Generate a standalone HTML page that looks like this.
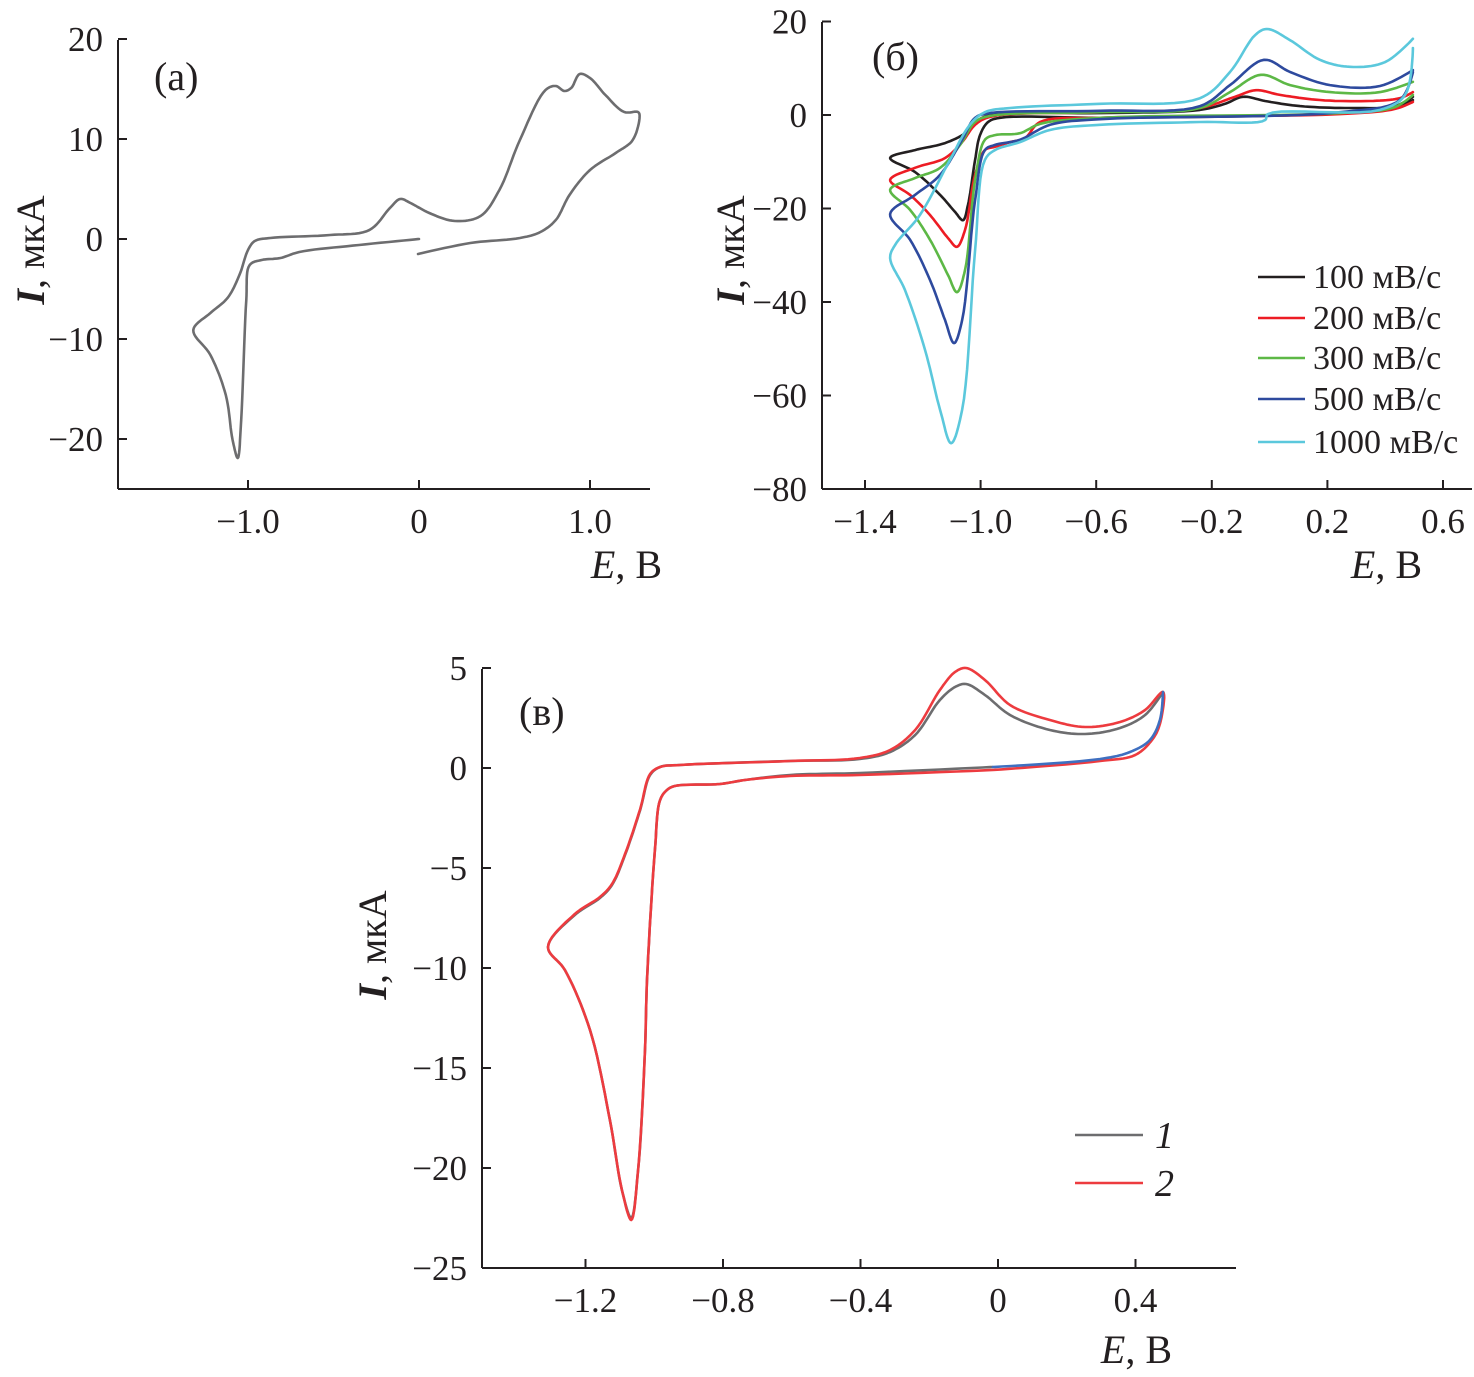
<!DOCTYPE html>
<html><head><meta charset="utf-8">
<style>
html,body{margin:0;padding:0;background:#fff;}
svg{display:block;font-family:"Liberation Serif",serif;}
</style></head>
<body>
<svg id="fig" width="1474" height="1377" viewBox="0 0 1474 1377" xmlns="http://www.w3.org/2000/svg"></svg>
<script>
// ---------- data ----------
const aTicksX = [-1.0, 0, 1.0];
const aTickLabelsX = ["−1.0", "0", "1.0"];
const aTicksY = [20, 10, 0, -10, -20];
const aTickLabelsY = ["20", "10", "0", "−10", "−20"];
const aCurve = [[-0.006,-1.5],[0.30,-0.4],[0.59,0.1],[0.71,0.7],[0.80,1.9],[0.88,4.4],[1.0,6.9],[1.15,8.6],[1.25,9.9],[1.29,12.4],[1.28,12.7],[1.20,12.7],[1.09,14.4],[1.0,16.1],[0.94,16.5],[0.89,15.1],[0.85,14.8],[0.80,15.3],[0.74,14.9],[0.59,9.9],[0.47,4.9],[0.36,2.3],[0.21,1.8],[0.06,2.6],[-0.05,3.6],[-0.11,4.0],[-0.17,3.1],[-0.29,0.9],[-0.52,0.4],[-0.87,0.1],[-0.96,-0.2],[-1.0,-1.1],[-1.05,-3.6],[-1.12,-5.9],[-1.22,-7.4],[-1.32,-9.1],[-1.22,-11.6],[-1.13,-15.6],[-1.09,-20.1],[-1.06,-21.9],[-1.04,-18.1],[-1.01,-6.1],[-0.99,-2.6],[-0.92,-2.1],[-0.81,-1.9],[-0.70,-1.3],[-0.35,-0.6],[0,0]];

const bTicksX = [-1.4,-1.0,-0.6,-0.2,0.2,0.6];
const bTickLabelsX = ["−1.4","−1.0","−0.6","−0.2","0.2","0.6"];
const bTicksY = [20,0,-20,-40,-60,-80];
const bTickLabelsY = ["20","0","−20","−40","−60","−80"];
const bLegend = ["100 мВ/с","200 мВ/с","300 мВ/с","500 мВ/с","1000 мВ/с"];
const b100 = [[0.496,3.2],[0.434,1.5],[0.244,0.4],[-0.033,-0.2],[-0.587,-0.6],[-0.933,-0.6],[-0.974,-1.5],[-1.002,-4.3],[-1.019,-9.6],[-1.044,-19.3],[-1.061,-22.5],[-1.089,-20.7],[-1.14,-17.1],[-1.227,-12.2],[-1.313,-9.2],[-1.227,-7.5],[-1.123,-6.0],[-1.054,-3.9],[-1.009,-1.1],[-0.95,0.2],[-0.587,0.4],[-0.241,1.1],[-0.154,2.4],[-0.092,3.9],[-0.016,3.0],[0.105,1.9],[0.278,1.5],[0.434,1.9],[0.496,3.9]];
const b200 = [[0.496,2.8],[0.434,1.3],[0.244,0.2],[-0.587,-0.6],[-0.794,-1.5],[-0.846,-4.9],[-0.898,-5.8],[-0.95,-6.8],[-0.985,-7.5],[-1.019,-12.8],[-1.054,-24.6],[-1.082,-28.2],[-1.113,-26.3],[-1.175,-21.4],[-1.244,-17.1],[-1.313,-13.9],[-1.227,-11.3],[-1.123,-9.2],[-1.064,-5.8],[-1.019,-2.1],[-0.967,-0.4],[-0.587,0.6],[-0.241,1.5],[-0.12,3.9],[-0.047,5.3],[0.036,4.3],[0.174,3.2],[0.348,3.0],[0.451,3.6],[0.496,4.9]];
const b300 = [[0.496,4.3],[0.434,1.7],[0.244,0.4],[-0.587,-0.6],[-0.794,-1.9],[-0.864,-3.9],[-0.95,-4.3],[-0.985,-5.3],[-1.019,-13.9],[-1.054,-33.2],[-1.082,-37.9],[-1.113,-34.2],[-1.175,-26.7],[-1.244,-20.3],[-1.313,-16.0],[-1.227,-13.5],[-1.14,-11.3],[-1.071,-6.4],[-1.019,-1.5],[-0.967,-0.2],[-0.587,0.6],[-0.241,1.5],[-0.137,4.9],[-0.030,8.6],[0.071,6.4],[0.209,4.9],[0.382,4.9],[0.496,7.1]];
const b500 = [[0.496,9.2],[0.451,3.2],[0.244,0.6],[-0.587,-0.9],[-0.76,-2.1],[-0.864,-5.3],[-0.95,-6.4],[-0.985,-7.5],[-1.019,-18.2],[-1.064,-43.9],[-1.092,-48.8],[-1.123,-43.9],[-1.175,-35.3],[-1.244,-26.7],[-1.313,-21.2],[-1.227,-17.1],[-1.14,-12.8],[-1.064,-5.3],[-1.019,-0.6],[-0.967,0.4],[-0.587,0.9],[-0.241,1.9],[-0.137,6.4],[-0.019,11.8],[0.071,9.2],[0.209,6.4],[0.382,6.2],[0.496,9.6]];
const b1000 = [[0.496,14.3],[0.469,4.3],[0.382,1.1],[-0.006,0.2],[-0.016,-1.1],[-0.241,-1.5],[-0.587,-2.1],[-0.76,-3.2],[-0.864,-5.8],[-0.95,-7.5],[-0.985,-9.6],[-1.019,-28.9],[-1.064,-63.1],[-1.102,-70.2],[-1.14,-63.1],[-1.192,-50.3],[-1.262,-37.4],[-1.313,-30.6],[-1.296,-27.8],[-1.21,-21.4],[-1.106,-9.6],[-1.037,-2.1],[-0.985,0.6],[-0.898,1.5],[-0.587,2.4],[-0.241,3.6],[-0.137,9.2],[-0.05,17.1],[-0.009,18.4],[0.071,16.0],[0.174,11.8],[0.278,10.3],[0.399,11.3],[0.496,16.3]];

const cTicksX = [-1.2,-0.8,-0.4,0,0.4];
const cTickLabelsX = ["−1.2","−0.8","−0.4","0","0.4"];
const cTicksY = [5,0,-5,-10,-15,-20,-25];
const cTickLabelsY = ["5","0","−5","−10","−15","−20","−25"];
const cLegend = ["1","2"];
const c1 = [[-0.015,0.05],[-0.402,-0.25],[-0.605,-0.35],[-0.736,-0.6],[-0.809,-0.8],[-0.940,-0.9],[-0.963,-1.1],[-0.983,-1.6],[-0.998,-4.1],[-1.021,-10.6],[-1.027,-14.1],[-1.047,-20.1],[-1.067,-22.5],[-1.094,-21.1],[-1.129,-17.6],[-1.187,-13.1],[-1.260,-10.1],[-1.309,-8.95],[-1.231,-7.35],[-1.158,-6.5],[-1.123,-5.85],[-1.085,-4.35],[-1.041,-2.1],[-1.012,-0.35],[-0.983,0.05],[-0.925,0.15],[-0.605,0.35],[-0.402,0.45],[-0.314,0.8],[-0.241,1.65],[-0.169,3.4],[-0.125,4.05],[-0.093,4.2],[-0.038,3.65],[0.035,2.65],[0.151,1.9],[0.253,1.7],[0.355,2.0],[0.428,2.65],[0.480,3.8]];
const c1b = [[0.480,3.8],[0.471,2.4],[0.442,1.4],[0.384,0.8],[0.297,0.45],[-0.015,0.05]];
const c2 = [[-0.015,-0.1],[-0.402,-0.35],[-0.605,-0.4],[-0.736,-0.6],[-0.809,-0.8],[-0.940,-0.9],[-0.963,-1.1],[-0.983,-1.6],[-0.998,-4.1],[-1.021,-10.6],[-1.027,-14.1],[-1.047,-20.1],[-1.067,-22.6],[-1.094,-21.1],[-1.129,-17.6],[-1.187,-13.1],[-1.260,-10.1],[-1.309,-8.95],[-1.231,-7.3],[-1.158,-6.45],[-1.123,-5.8],[-1.085,-4.3],[-1.041,-2.05],[-1.012,-0.3],[-0.983,0.05],[-0.925,0.15],[-0.605,0.35],[-0.402,0.5],[-0.314,0.9],[-0.241,1.9],[-0.169,3.9],[-0.125,4.8],[-0.093,5.0],[-0.038,4.4],[0.035,3.15],[0.151,2.4],[0.253,2.05],[0.355,2.3],[0.428,2.9],[0.480,3.8],[0.471,2.2],[0.448,1.4],[0.399,0.65],[0.297,0.35],[-0.015,-0.1]];

// ---------- drawing ----------
const NS = "http://www.w3.org/2000/svg";
const svg = document.getElementById('fig');
function mk(tag, attrs, parent){const e=document.createElementNS(NS,tag);for(const k in attrs)e.setAttribute(k,attrs[k]);(parent||svg).appendChild(e);return e;}
const TF = 35;

function panel(cfg){
  const g = mk('g',{});
  
  
  const sx = v => cfg.x0 + (v - cfg.e0) * cfg.kx;
  const sy = v => cfg.y0 - (v - cfg.i0) * cfg.ky;
  const ya = mk('line',{x1:cfg.axX,y1:cfg.axTop,x2:cfg.axX,y2:cfg.axY,stroke:'#231f20','stroke-width':2},g);
  
  
  const xa = mk('line',{x1:cfg.axX,y1:cfg.axY,x2:cfg.axRight,y2:cfg.axY,stroke:'#231f20','stroke-width':2},g);
  
  
  cfg.ty.forEach((v,i)=>{
    const y=sy(v);
    const t=mk('line',{x1:cfg.axX,y1:y,x2:cfg.axX+9,y2:y,stroke:'#231f20','stroke-width':2},g);
    
    
    const l=mk('text',{x:cfg.axX-15,y:y+12,'text-anchor':'end','font-size':TF,fill:'#231f20'},g);
    
    
    l.textContent=cfg.tyl[i];
  });
  cfg.tx.forEach((v,i)=>{
    const x=sx(v);
    const t=mk('line',{x1:x,y1:cfg.axY,x2:x,y2:cfg.axY-9,stroke:'#231f20','stroke-width':2},g);
    
    
    const l=mk('text',{x:x,y:cfg.axY+44,'text-anchor':'middle','font-size':TF,fill:'#231f20'},g);
    
    
    l.textContent=cfg.txl[i];
  });
  return {g,sx,sy};
}
function smooth(P){
  if(P.length<3) return P;
  const out=[P[0]];
  const d=(a,b)=>Math.pow(Math.hypot(b[0]-a[0],b[1]-a[1])||1e-6,0.5);
  for(let i=0;i<P.length-1;i++){
    const p0=P[Math.max(0,i-1)],p1=P[i],p2=P[i+1],p3=P[Math.min(P.length-1,i+2)];
    const t0=0,t1=t0+d(p0,p1),t2=t1+d(p1,p2),t3=t2+d(p2,p3);
    const N=10;
    for(let k=1;k<=N;k++){
      const t=t1+(t2-t1)*k/N;
      const L=(a,b,ta,tb)=>{const w=(tb-ta)||1e-6;return [(tb-t)/w*a[0]+(t-ta)/w*b[0],(tb-t)/w*a[1]+(t-ta)/w*b[1]];};
      const A1=L(p0,p1,t0,t1),A2=L(p1,p2,t1,t2),A3=L(p2,p3,t2,t3);
      const B1=L(A1,A2,t0,t2),B2=L(A2,A3,t1,t3);
      out.push(L(B1,B2,t1,t2));
    }
  }
  return out;
}
function curve(p, data, color, name){
  const scr = data.map(d=>[p.sx(d[0]),p.sy(d[1])]);
  const pts = smooth(scr).map(q=>q[0].toFixed(1)+','+q[1].toFixed(1)).join(' ');
  const e = mk('polyline',{points:pts,fill:'none',stroke:color,'stroke-width':2.6,'stroke-linejoin':'round','stroke-linecap':'round'},p.g);
  
  
}
function text(p, x, y, str, size, name, opts){
  const t = mk('text',Object.assign({x:x,y:y,'font-size':size,fill:'#231f20'},opts||{}),p.g);
  
  
  t.innerHTML = str;
  return t;
}

// panel a
const pa = panel({name:'panel-a',x0:419,e0:0,kx:171,y0:239,i0:0,ky:10,axX:118,axTop:40,axY:489,axRight:650,tx:aTicksX,txl:aTickLabelsX,ty:aTicksY,tyl:aTickLabelsY});
curve(pa, aCurve, '#6d6d6f', 'cv-curve-a');
text(pa,154,90,'(а)',40,'panel-label-a');
text(pa,662,578,'<tspan font-style="italic">E</tspan>, В',40,'x-axis-title-a',{'text-anchor':'end'});
text(pa,0,0,'<tspan font-style="italic" font-weight="bold">I</tspan>, мкА',40,'y-axis-title-a',{'text-anchor':'middle',transform:'translate(44,250) rotate(-90)'});

// panel b
const pb = panel({name:'panel-b',x0:865,e0:-1.4,kx:289,y0:115,i0:0,ky:4.675,axX:822,axTop:22,axY:489,axRight:1472,tx:bTicksX,txl:bTickLabelsX,ty:bTicksY,tyl:bTickLabelsY});
const bCols = ['#231f20','#ed1c24','#5db846','#2e4a9e','#5bc8dc'];
const bSeries = [b100,b200,b300,b500,b1000];
const bNames = ['cv-100','cv-200','cv-300','cv-500','cv-1000'];
bSeries.forEach((s,i)=>curve(pb,s,bCols[i],bNames[i]));
const bLegY = [277,318,358,399,442];
bLegend.forEach((s,i)=>{
  const l=mk('line',{x1:1258,y1:bLegY[i],x2:1305,y2:bLegY[i],stroke:bCols[i],'stroke-width':2.6},pb.g);
  
  
  text(pb,1313,bLegY[i]+11,s,34,'legend-entry');
});
text(pb,872,70,'(б)',40,'panel-label-b');
text(pb,1422,578,'<tspan font-style="italic">E</tspan>, В',40,'x-axis-title-b',{'text-anchor':'end'});
text(pb,0,0,'<tspan font-style="italic" font-weight="bold">I</tspan>, мкА',40,'y-axis-title-b',{'text-anchor':'middle',transform:'translate(744,250) rotate(-90)'});

// panel c
const pc = panel({name:'panel-c',x0:998,e0:0,kx:343.75,y0:768,i0:0,ky:20,axX:482,axTop:669,axY:1268,axRight:1236,tx:cTicksX,txl:cTickLabelsX,ty:cTicksY,tyl:cTickLabelsY});
curve(pc, c1, '#6d6d6f', 'cv-curve-1');
curve(pc, c2, '#ed3b3f', 'cv-curve-2');
curve(pc, c1b, '#3f6fc0', 'cv-curve-1-return');
const cCols=['#6d6d6f','#ed3b3f'];
const cLegY=[1135,1183];
cLegend.forEach((s,i)=>{
  const l=mk('line',{x1:1075,y1:cLegY[i],x2:1143,y2:cLegY[i],stroke:cCols[i],'stroke-width':2.6},pc.g);
  
  
  text(pc,1155,cLegY[i]+13,s,38,'legend-entry',{'font-style':'italic'});
});
text(pc,519,725,'(в)',40,'panel-label-c');
text(pc,1172,1363,'<tspan font-style="italic">E</tspan>, В',40,'x-axis-title-c',{'text-anchor':'end'});
text(pc,0,0,'<tspan font-style="italic" font-weight="bold">I</tspan>, мкА',40,'y-axis-title-c',{'text-anchor':'middle',transform:'translate(386,945) rotate(-90)'});
</script>
</body></html>
